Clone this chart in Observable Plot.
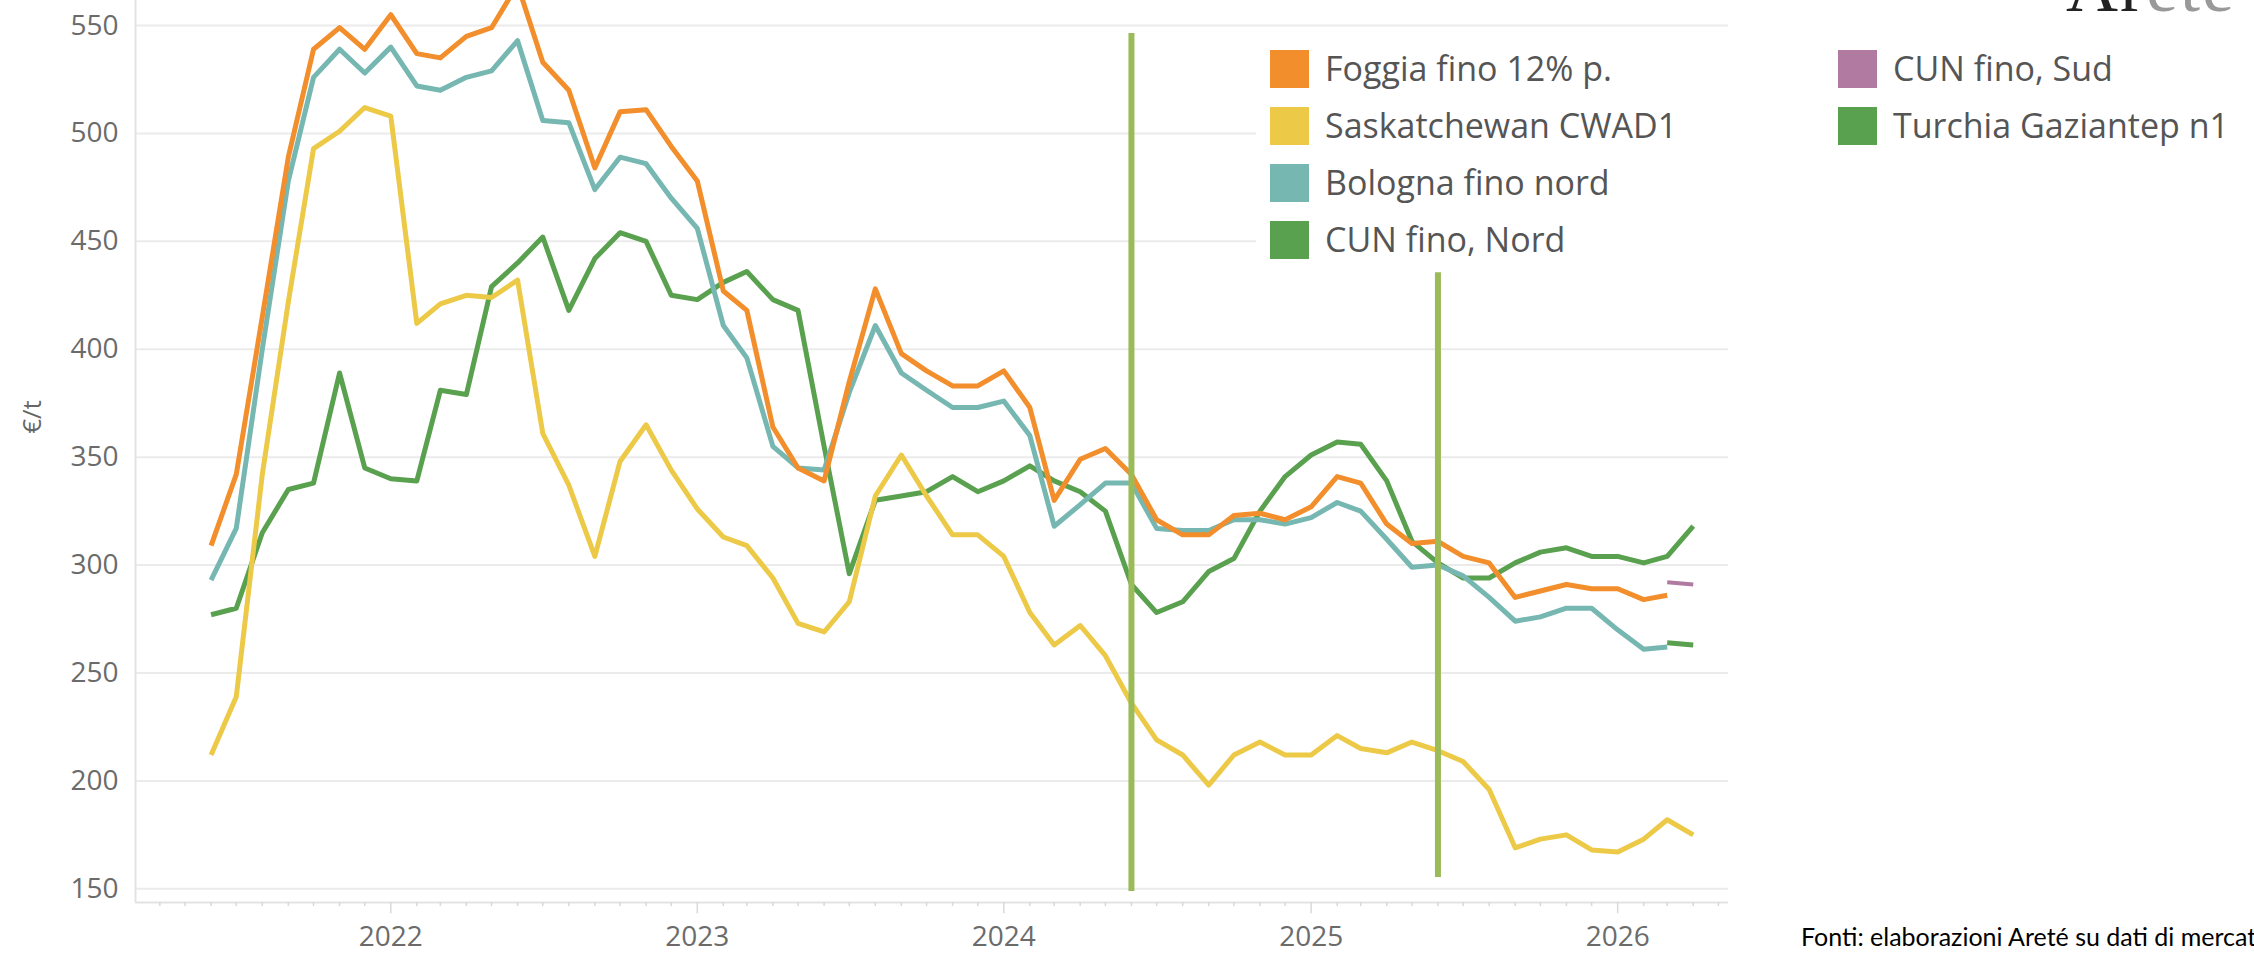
<!DOCTYPE html>
<html>
<head>
<meta charset="utf-8">
<script src="https://cdn.jsdelivr.net/npm/d3@7"></script>
<script src="https://cdn.jsdelivr.net/npm/@observablehq/plot@0.6"></script>
<style>
  html, body { margin: 0; padding: 0; background: #fff; }
  #wrap { position: relative; width: 2254px; height: 954px; overflow: hidden; background: #fff; }
  #chart { position: absolute; left: 0; top: 0; }
  .lg { position: absolute; font-family: "Open Sans", sans-serif; font-size: 34px; color: #555; white-space: nowrap; line-height: 1; }
  .sw { position: absolute; width: 39px; height: 38px; }
  #legbg { position: absolute; left: 1256px; top: 34px; width: 480px; height: 236px; background: #fff; }
  #ytitle { position: absolute; left: 31px; top: 417px; transform: translate(-50%, -50%) rotate(-90deg); font-family: "Open Sans", sans-serif; font-size: 26px; color: #666; white-space: nowrap; }
  #src { position: absolute; left: 1801px; top: 921px; font-family: Lato, sans-serif; font-size: 25px; color: #000; white-space: nowrap; }
  #logo { position: absolute; left: 2066px; top: -54px; font-family: "Liberation Serif", serif; font-size: 72px; color: #222; white-space: nowrap; letter-spacing: 2px; }
  #logo span { color: #999; }
</style>
</head>
<body>
<div id="wrap">
  <div id="chart"></div>
</div>
<script>
// ---- data ----
const months = ["2021-06","2021-07","2021-08","2021-09","2021-10","2021-11","2021-12",
  "2022-01","2022-02","2022-03","2022-04","2022-05","2022-06","2022-07","2022-08","2022-09","2022-10","2022-11","2022-12",
  "2023-01","2023-02","2023-03","2023-04","2023-05","2023-06","2023-07","2023-08","2023-09","2023-10","2023-11","2023-12",
  "2024-01","2024-02","2024-03","2024-04","2024-05","2024-06","2024-07","2024-08","2024-09","2024-10","2024-11","2024-12",
  "2025-01","2025-02","2025-03","2025-04","2025-05","2025-06","2025-07","2025-08","2025-09","2025-10","2025-11","2025-12",
  "2026-01","2026-02","2026-03","2026-04"];

const foggia = [309,342,415,489,539,549,539,555,537,535,545,549,569,533,520,484,510,511,494,478,427,418,364,345,339,385,428,398,390,383,383,390,373,330,349,354,342,321,314,314,323,324,321,327,341,338,319,310,311,304,301,285,288,291,289,289,284,286,null];
const saskatchewan = [212,239,342,422,493,501,512,508,412,421,425,424,432,361,337,304,348,365,344,326,313,309,294,273,269,283,332,351,332,314,314,304,278,263,272,258,236,219,212,198,212,218,212,212,221,215,213,218,214,209,196,169,173,175,168,167,173,182,175];
const bologna = [293,317,400,478,526,539,528,540,522,520,526,529,543,506,505,474,489,486,470,456,411,396,355,345,344,380,411,389,381,373,373,376,360,318,328,338,338,317,316,316,321,321,319,322,329,325,312,299,300,295,285,274,276,280,280,270,261,262,null];
const turchia = [277,280,315,335,338,389,345,340,339,381,379,429,440,452,418,442,454,450,425,423,431,436,423,418,355,296,330,332,334,341,334,339,346,339,334,325,291,278,283,297,303,325,341,351,357,356,339,311,301,294,294,301,306,308,304,304,301,304,318];
const cunMonths = ["2026-03","2026-04"];
const cunNord = [264,263];
const cunSud = [292,291];

const seriesNames = ["Foggia fino 12% p.","Saskatchewan CWAD1","Bologna fino nord","CUN fino, Nord","CUN fino, Sud","Turchia Gaziantep n1"];
const seriesColors = ["#f28e2b","#edc948","#76b7b2","#59a14f","#b07aa1","#59a14f"];

const yTicks = [150,200,250,300,350,400,450,500,550];
const yearTicks = ["2022-01-01","2023-01-01","2024-01-01","2025-01-01","2026-01-01"];
const harvestDates = ["2024-06-01","2025-06-01"];
const harvestLow = [148.7,155.2];
const harvestHigh = [546.3,435.5];
const xDomain = ["2021-03-03","2026-05-13"];
const yDomain = [143.65,561.6];

// ---- build table ----
const parse = d3.utcParse("%Y-%m");
const rows = [];
function add(name, ms, vals) { ms.forEach((m,i) => rows.push({series:name, date:parse(m), value:vals[i]})); }
add("Foggia fino 12% p.", months, foggia);
add("Saskatchewan CWAD1", months, saskatchewan);
add("Bologna fino nord", months, bologna);
add("Turchia Gaziantep n1", months, turchia);
add("CUN fino, Nord", cunMonths, cunNord);
add("CUN fino, Sud", cunMonths, cunSud);

const colorOf = Object.fromEntries(seriesNames.map((n,i)=>[n, seriesColors[i]]));
const drawOrder = ["Turchia Gaziantep n1","Saskatchewan CWAD1","Bologna fino nord","Foggia fino 12% p.","CUN fino, Nord","CUN fino, Sud"];

const monthTicks = d3.utcMonth.range(new Date(xDomain[0]), new Date(xDomain[1]));
const years = yearTicks.map(d => new Date(d));
const minorTicks = monthTicks.filter(d => d.getUTCMonth() !== 0);
const harvest = harvestDates.map((d,i) => ({date:new Date(d), lo:harvestLow[i], hi:harvestHigh[i]}));

const chart = Plot.plot({
  width: 2254,
  height: 954,
  marginLeft: 135,
  marginRight: 526,
  marginTop: 0,
  marginBottom: 52,
  style: {fontFamily: "'Open Sans', sans-serif", fontSize: "28px", color: "#6b6b6b", background: "transparent", overflow: "hidden"},
  x: {type: "utc", domain: xDomain.map(d => new Date(d)), ticks: years, tickFormat: d3.utcFormat("%Y"), tickSize: 0, tickPadding: 24, label: null},
  y: {domain: yDomain, ticks: yTicks, tickSize: 0, tickPadding: 17, label: null},
  marks: [
    Plot.ruleY(yTicks, {stroke: "#ebebeb", strokeWidth: 2}),
    Plot.ruleX([new Date(xDomain[0])], {stroke: "#e3e3e3", strokeWidth: 2}),
    Plot.ruleY([yDomain[0]], {stroke: "#e3e3e3", strokeWidth: 2}),
    Plot.ruleX(minorTicks, {y1: yDomain[0], y2: yDomain[0] - 1.9, stroke: "#d9d9d9", strokeWidth: 1.5}),
    Plot.ruleX(years, {y1: yDomain[0], y2: yDomain[0] - 5.2, stroke: "#d9d9d9", strokeWidth: 1.5}),
    ...drawOrder.map(name => Plot.line(rows.filter(r => r.series === name), {
      x: "date", y: "value", stroke: colorOf[name], strokeWidth: name === "CUN fino, Sud" ? 4 : 5,
      strokeLinejoin: "round", strokeLinecap: "butt", clip: true
    })),
    Plot.ruleX(harvest, {x: "date", y1: "lo", y2: "hi", stroke: "#9bbb59", strokeWidth: 6})
  ]
});
document.getElementById("chart").appendChild(chart);

// ---- legend & texts (HTML) ----
const wrap = document.getElementById("wrap");
const bg = document.createElement("div"); bg.id = "legbg"; wrap.appendChild(bg);
const legendItems = [
  {name: seriesNames[0], col: 0, row: 0},
  {name: seriesNames[1], col: 0, row: 1},
  {name: seriesNames[2], col: 0, row: 2},
  {name: seriesNames[3], col: 0, row: 3},
  {name: seriesNames[4], col: 1, row: 0},
  {name: seriesNames[5], col: 1, row: 1}
];
const colX = [1270, 1838];
const rowY = [50, 107, 164, 221];
legendItems.forEach(it => {
  const sw = document.createElement("div");
  sw.className = "sw";
  sw.style.left = colX[it.col] + "px";
  sw.style.top = rowY[it.row] + "px";
  sw.style.background = colorOf[it.name];
  wrap.appendChild(sw);
  const t = document.createElement("div");
  t.className = "lg";
  t.style.left = (colX[it.col] + 55) + "px";
  t.style.top = (rowY[it.row] + 1) + "px";
  t.textContent = it.name;
  wrap.appendChild(t);
});
const yt = document.createElement("div"); yt.id = "ytitle"; yt.textContent = "€/t"; wrap.appendChild(yt);
const src = document.createElement("div"); src.id = "src"; src.textContent = "Fonti: elaborazioni Areté su dati di mercato"; wrap.appendChild(src);
const logo = document.createElement("div"); logo.id = "logo"; logo.innerHTML = "Ar<span>eté</span>"; wrap.appendChild(logo);
</script>
</body>
</html>
